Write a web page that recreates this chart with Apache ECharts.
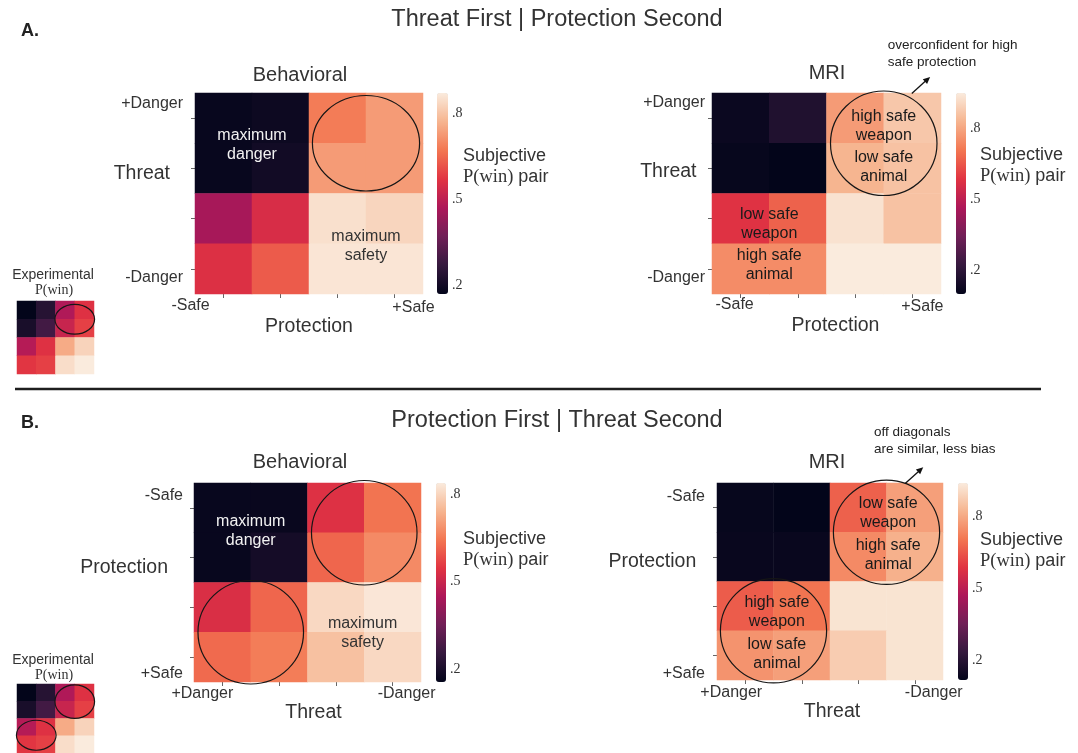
<!DOCTYPE html>
<html>
<head>
<meta charset="utf-8">
<script src="https://cdn.jsdelivr.net/npm/echarts@6/dist/echarts.min.js"></script>
<style>
  html, body { margin: 0; padding: 0; background: #ffffff; }
  #chart { width: 1078px; height: 753px; }
</style>
</head>
<body>
<div id="chart"></div>
<script>
// ---------- data ----------
// Tick labels (only the two ends of each 4-level axis are named)
const threatTicksA  = ['+Danger', '', '', '-Danger'];
const protectTicksA = ['-Safe', '', '', '+Safe'];
const protectTicksB = ['-Safe', '', '', '+Safe'];
const threatTicksB  = ['+Danger', '', '', '-Danger'];

// Subjective P(win) for each pair, rows top -> bottom, columns left -> right
// A. Threat first | Protection second  (rows: threat, columns: protection)
const behavioralA = [
  [0.18, 0.19, 0.68, 0.73],
  [0.18, 0.20, 0.73, 0.73],
  [0.46, 0.55, 0.85, 0.83],
  [0.56, 0.63, 0.86, 0.86]
];
const mriA = [
  [0.12, 0.17, 0.78, 0.87],
  [0.11, 0.10, 0.83, 0.86],
  [0.58, 0.67, 0.93, 0.86],
  [0.75, 0.75, 0.95, 0.95]
];
// B. Protection first | Threat second  (rows: protection, columns: threat)
const behavioralB = [
  [0.165, 0.167, 0.537, 0.640],
  [0.165, 0.190, 0.620, 0.674],
  [0.531, 0.620, 0.804, 0.830],
  [0.626, 0.654, 0.763, 0.804]
];
const mriB = [
  [0.125, 0.116, 0.669, 0.784],
  [0.130, 0.130, 0.743, 0.817],
  [0.660, 0.702, 0.925, 0.925],
  [0.760, 0.784, 0.875, 0.925]
];
// Experimental P(win) of the designed pairs
const experimentalA = [
  [0.10, 0.18, 0.45, 0.55],
  [0.15, 0.24, 0.50, 0.58],
  [0.46, 0.55, 0.77, 0.85],
  [0.56, 0.58, 0.87, 0.90]
];
const experimentalB = [
  [0.10, 0.18, 0.45, 0.55],
  [0.15, 0.24, 0.50, 0.58],
  [0.46, 0.55, 0.77, 0.85],
  [0.56, 0.58, 0.87, 0.90]
];

// Colour-bar ranges and ticks
const rangeBehavioralA = [0.17, 0.87];
const rangeMriA        = [0.10, 0.95];
const rangeBehavioralB = [0.155, 0.838];
const rangeMriB        = [0.116, 0.941];
const rangeExperimental = [0.10, 0.90];
const barTicksBehavioral = [0.2, 0.3, 0.4, 0.5, 0.6, 0.7, 0.8];
const barTicksMri        = [0.2, 0.3, 0.4, 0.5, 0.6, 0.7, 0.8, 0.9];
const barLabelValues     = [0.2, 0.5, 0.8];

// ---------- styling ----------
const ROCKET = ['#03051A', '#35193E', '#701F57', '#AD1759', '#E13342', '#F37651', '#F6B48F', '#FAEBDD'];
const SANS = "'Liberation Sans', Arial, Helvetica, sans-serif";
const SERIF = "'Liberation Serif', 'Times New Roman', serif";
const INK = '#333333';
const TICK = '#666666';

// Layout of the four main panels
const panels = [
  {
    data: behavioralA, range: rangeBehavioralA, barTicks: barTicksBehavioral,
    grid: { left: 195, top: 93, width: 228, height: 201 },
    bar:  { left: 437, top: 93, width: 11, height: 201 },
    xTicks: protectTicksA, yTicks: threatTicksA, xName: 'Protection', yName: 'Threat',
    xLab: { dx: [-33, 19], dy: [5, 9] }, yLab: { margin: 12, dy: [-15, 9] },
    yNameGap: 25, yNameUp: 20, xNameGap: 19.5, xNameDx: 0,
    title: { text: 'Behavioral', x: 300, y: 75 },
    barTitle: { x: 463, y: 166.5 },
    overlay: {
      circles: [{ x: 2.5, y: 0.5, rx: 0.94, ry: 0.95 }],
      texts: [
        { x: 0.5, y: 0.54, text: 'maximum\ndanger', fill: '#f2f2f2' },
        { x: 2.5, y: 2.55, text: 'maximum\nsafety', fill: INK }
      ]
    }
  },
  {
    data: mriA, range: rangeMriA, barTicks: barTicksMri,
    grid: { left: 712, top: 93, width: 229, height: 201 },
    bar:  { left: 956, top: 93, width: 10, height: 201 },
    xTicks: protectTicksA, yTicks: threatTicksA, xName: 'Protection', yName: 'Threat',
    xLab: { dx: [-6, 10], dy: [3.4, 7.4] }, yLab: { margin: 7, dy: [-16, 9] },
    yNameGap: 15.5, yNameUp: 22, xNameGap: 19, xNameDx: 9,
    title: { text: 'MRI', x: 827, y: 73 },
    barTitle: { x: 980, y: 166 },
    overlay: {
      circles: [{ x: 2.5, y: 0.5, rx: 0.93, ry: 1.04 }],
      texts: [
        { x: 2.5, y: 0.16, text: 'high safe\nweapon', fill: '#1a1a1a' },
        { x: 2.5, y: 0.98, text: 'low safe\nanimal', fill: '#1a1a1a' },
        { x: 0.5, y: 2.1, text: 'low safe\nweapon', fill: '#1a1a1a' },
        { x: 0.5, y: 2.93, text: 'high safe\nanimal', fill: '#1a1a1a' }
      ],
      note: { x: 2.57, y: -1.28, text: 'overconfident for high\nsafe protection' },
      arrow: { from: [2.99, -0.49], to: [3.31, -0.82] }
    }
  },
  {
    data: behavioralB, range: rangeBehavioralB, barTicks: barTicksBehavioral,
    grid: { left: 194, top: 483, width: 227, height: 199 },
    bar:  { left: 436, top: 483, width: 10, height: 199 },
    xTicks: threatTicksB, yTicks: protectTicksB, xName: 'Threat', yName: 'Protection',
    xLab: { dx: [-20, 14], dy: [5.7, 5.7] }, yLab: { margin: 11, dy: [-12, 16] },
    yNameGap: 26, yNameUp: 15, xNameGap: 15, xNameDx: 6,
    title: { text: 'Behavioral', x: 300, y: 462 },
    barTitle: { x: 463, y: 550 },
    overlay: {
      circles: [{ x: 2.5, y: 0.5, rx: 0.93, ry: 1.05 }, { x: 0.5, y: 2.5, rx: 0.93, ry: 1.04 }],
      texts: [
        { x: 0.5, y: 0.46, text: 'maximum\ndanger', fill: '#f2f2f2' },
        { x: 2.47, y: 2.51, text: 'maximum\nsafety', fill: INK }
      ]
    }
  },
  {
    data: mriB, range: rangeMriB, barTicks: barTicksMri,
    grid: { left: 717, top: 483, width: 226, height: 197 },
    bar:  { left: 958, top: 483, width: 10, height: 197 },
    xTicks: threatTicksB, yTicks: protectTicksB, xName: 'Threat', yName: 'Protection',
    xLab: { dx: [-14, 19], dy: [7.7, 7.7] }, yLab: { margin: 12, dy: [-11, 18] },
    yNameGap: 20.7, yNameUp: 20, xNameGap: 10.5, xNameDx: 2,
    title: { text: 'MRI', x: 827, y: 462 },
    barTitle: { x: 980, y: 551 },
    overlay: {
      circles: [{ x: 2.5, y: 0.5, rx: 0.94, ry: 1.06 }, { x: 0.5, y: 2.5, rx: 0.94, ry: 1.06 }],
      texts: [
        { x: 2.53, y: 0.12, text: 'low safe\nweapon', fill: '#1a1a1a' },
        { x: 2.53, y: 0.97, text: 'high safe\nanimal', fill: '#1a1a1a' },
        { x: 0.56, y: 2.12, text: 'high safe\nweapon', fill: '#1a1a1a' },
        { x: 0.56, y: 2.97, text: 'low safe\nanimal', fill: '#1a1a1a' }
      ],
      note: { x: 2.28, y: -1.36, text: 'off diagonals\nare similar, less bias' },
      arrow: { from: [2.83, -0.49], to: [3.15, -0.82] }
    }
  }
];

// Small "Experimental P(win)" insets
const insets = [
  {
    data: experimentalA, grid: { left: 17, top: 301, width: 77, height: 73 },
    label: { x: 53, y: 275 },
    overlay: { circles: [{ x: 2.5, y: 0.5, rx: 1.03, ry: 0.82 }] }
  },
  {
    data: experimentalB, grid: { left: 17, top: 684, width: 77, height: 73 },
    label: { x: 53, y: 660 },
    overlay: { circles: [{ x: 2.5, y: 0.52, rx: 1.03, ry: 0.97 }, { x: 0.5, y: 2.47, rx: 1.03, ry: 0.87 }] }
  }
];

// ---------- helpers ----------
function toCells(matrix) {
  const out = [];
  matrix.forEach((row, r) => row.forEach((v, c) => out.push([c, r, v])));
  return out;
}
const idx4 = ['0', '1', '2', '3'];

function xLabelPad(dx, dy) { return [dy, dx < 0 ? -2 * dx : 0, 0, dx > 0 ? 2 * dx : 0]; }
function yLabelPad(dy) { return [dy > 0 ? 2 * dy : 0, 0, dy < 0 ? -2 * dy : 0, 0]; }

// Circles, in-cell captions and callouts, placed in cell units of a grid
function overlayRenderer(spec) {
  return function (params, api) {
    const o = api.coord([0, 0]);
    const sx = api.coord([1, 0])[0] - o[0];
    const sy = api.coord([0, 1])[1] - o[1];
    const at = (x, y) => [o[0] + x * sx, o[1] + y * sy];
    const children = [];
    (spec.circles || []).forEach(c => {
      const p = at(c.x, c.y);
      children.push({
        type: 'ellipse',
        shape: { cx: p[0], cy: p[1], rx: Math.abs(sx) * c.rx, ry: Math.abs(sy) * c.ry },
        style: { fill: 'none', stroke: '#161616', lineWidth: 1.2 }
      });
    });
    (spec.texts || []).forEach(t => {
      const p = at(t.x, t.y);
      children.push({
        type: 'text', x: p[0], y: p[1],
        style: { text: t.text, fill: t.fill, font: '16px ' + SANS, align: 'center', verticalAlign: 'middle', lineHeight: 19 }
      });
    });
    if (spec.note) {
      const p = at(spec.note.x, spec.note.y);
      children.push({
        type: 'text', x: p[0], y: p[1],
        style: { text: spec.note.text, fill: '#222', font: '13.5px ' + SANS, align: 'left', verticalAlign: 'middle', lineHeight: 17 }
      });
    }
    if (spec.arrow) {
      const a = at(spec.arrow.from[0], spec.arrow.from[1]);
      const b = at(spec.arrow.to[0], spec.arrow.to[1]);
      const len = Math.hypot(b[0] - a[0], b[1] - a[1]);
      const ux = (b[0] - a[0]) / len, uy = (b[1] - a[1]) / len;
      const L = 7, W = 3.2;
      children.push({
        type: 'line', shape: { x1: a[0], y1: a[1], x2: b[0] - ux * 4, y2: b[1] - uy * 4 },
        style: { stroke: '#111', lineWidth: 1.3 }
      });
      children.push({
        type: 'polygon',
        shape: { points: [
          [b[0], b[1]],
          [b[0] - ux * L - uy * W, b[1] - uy * L + ux * W],
          [b[0] - ux * L + uy * W, b[1] - uy * L - ux * W]
        ] },
        style: { fill: '#111' }
      });
    }
    return { type: 'group', children };
  };
}

// ---------- option ----------
const grid = [], xAxis = [], yAxis = [], series = [], visualMap = [], graphic = [];

panels.forEach((p, i) => {
  grid.push(Object.assign({}, p.grid));
  xAxis.push({
    type: 'category', gridIndex: i, data: idx4, position: 'bottom',
    axisLine: { show: false },
    axisTick: { show: true, alignWithLabel: true, length: 4, lineStyle: { color: TICK, width: 1 } },
    axisLabel: {
      interval: 0, margin: 0,
      formatter: (v, k) => p.xTicks[k] ? '{' + (k === 0 ? 'a' : 'b') + '|' + p.xTicks[k] + '}' : '',
      rich: {
        a: { fontSize: 16, fontFamily: SANS, color: INK, lineHeight: 18, padding: xLabelPad(p.xLab.dx[0], p.xLab.dy[0]) },
        b: { fontSize: 16, fontFamily: SANS, color: INK, lineHeight: 18, padding: xLabelPad(p.xLab.dx[1], p.xLab.dy[1]) }
      }
    },
    splitLine: { show: false },
    name: p.xName, nameLocation: 'middle', nameGap: p.xNameGap,
    nameTextStyle: { fontSize: 19.5, fontFamily: SANS, color: INK, padding: [0, 0, 0, 2 * p.xNameDx] }
  });
  yAxis.push({
    type: 'category', gridIndex: i, data: idx4, inverse: true, position: 'left',
    axisLine: { show: false },
    axisTick: { show: true, alignWithLabel: true, length: 4, lineStyle: { color: TICK, width: 1 } },
    axisLabel: {
      interval: 0, margin: p.yLab.margin,
      formatter: (v, k) => p.yTicks[k] ? '{' + (k === 0 ? 'a' : 'b') + '|' + p.yTicks[k] + '}' : '',
      rich: {
        a: { fontSize: 16, fontFamily: SANS, color: INK, lineHeight: 18, padding: yLabelPad(p.yLab.dy[0]) },
        b: { fontSize: 16, fontFamily: SANS, color: INK, lineHeight: 18, padding: yLabelPad(p.yLab.dy[1]) }
      }
    },
    splitLine: { show: false }
  });
  // vertical-axis title, written level with the axis, to its left
  graphic.push({
    type: 'text', silent: true,
    x: p.grid.left - p.yNameGap, y: p.grid.top + p.grid.height / 2 - p.yNameUp,
    style: { text: p.yName, font: '19.5px ' + SANS, fill: INK, align: 'right', verticalAlign: 'middle' }
  });
});

// colour-bar tick axes (grids 4..7)
panels.forEach((p, i) => {
  const g = 4 + i;
  grid.push(Object.assign({}, p.bar));
  xAxis.push({ type: 'value', gridIndex: g, show: false, min: 0, max: 1 });
  yAxis.push({
    type: 'value', gridIndex: g, position: 'right', min: p.range[0], max: p.range[1],
    axisLine: { show: false }, splitLine: { show: false },
    axisTick: { show: true, length: 3, customValues: p.barTicks, lineStyle: { color: TICK, width: 1 } },
    axisLabel: {
      customValues: barLabelValues, margin: 4,
      formatter: v => '.' + Math.round(v * 10),
      fontSize: 14, fontFamily: SERIF, color: INK
    }
  });
});

// inset axes (grids 8..9)
insets.forEach((s, i) => {
  const g = 8 + i;
  grid.push(Object.assign({}, s.grid));
  xAxis.push({ type: 'category', gridIndex: g, data: idx4, show: false });
  yAxis.push({ type: 'category', gridIndex: g, data: idx4, inverse: true, show: false });
});

// heatmaps
panels.forEach((p, i) => {
  series.push({
    type: 'heatmap', xAxisIndex: i, yAxisIndex: i, data: toCells(p.data),
    itemStyle: { borderWidth: 0 }, emphasis: { disabled: true }, silent: true
  });
  visualMap.push({
    type: 'continuous', seriesIndex: series.length - 1, min: p.range[0], max: p.range[1],
    orient: 'vertical', left: p.bar.left, top: p.bar.top,
    itemWidth: p.bar.width, itemHeight: p.bar.height, padding: 0,
    calculable: false, hoverLink: false, text: null, showLabel: false,
    inRange: { color: ROCKET }
  });
});
insets.forEach((s, i) => {
  series.push({
    type: 'heatmap', xAxisIndex: 8 + i, yAxisIndex: 8 + i, data: toCells(s.data),
    itemStyle: { borderWidth: 0 }, emphasis: { disabled: true }, silent: true
  });
  visualMap.push({
    type: 'continuous', seriesIndex: series.length - 1, show: false,
    min: rangeExperimental[0], max: rangeExperimental[1], inRange: { color: ROCKET }
  });
});

// overlays
panels.forEach((p, i) => {
  series.push({
    type: 'custom', xAxisIndex: i, yAxisIndex: i, data: [[0, 0]], clip: false, silent: true, z: 5,
    renderItem: overlayRenderer(p.overlay)
  });
});
insets.forEach((s, i) => {
  series.push({
    type: 'custom', xAxisIndex: 8 + i, yAxisIndex: 8 + i, data: [[0, 0]], clip: false, silent: true, z: 5,
    renderItem: overlayRenderer(s.overlay)
  });
});

// free-standing text
function txt(x, y, text, font, align, extra) {
  return {
    type: 'text', x, y, silent: true,
    style: Object.assign({ text, font, fill: INK, align: align || 'center', verticalAlign: 'middle' }, extra || {})
  };
}
graphic.push(txt(557, 20, 'Threat First | Protection Second', '23.5px ' + SANS));
graphic.push(txt(557, 421, 'Protection First | Threat Second', '23.5px ' + SANS));
graphic.push(txt(21, 31, 'A.', 'bold 18px ' + SANS, 'left', { fill: '#222' }));
graphic.push(txt(21, 423, 'B.', 'bold 18px ' + SANS, 'left', { fill: '#222' }));
graphic.push({
  type: 'line', silent: true,
  shape: { x1: 15, y1: 389, x2: 1041, y2: 389 },
  style: { stroke: '#1e1e1e', lineWidth: 2.5 }
});
panels.forEach(p => {
  graphic.push(txt(p.title.x, p.title.y, p.title.text, '20px ' + SANS));
  graphic.push(txt(p.barTitle.x, p.barTitle.y, 'Subjective\n{s|P(win)} pair', '18px ' + SANS, 'left', {
    lineHeight: 21,
    rich: { s: { font: '18.5px ' + SERIF, fill: INK, lineHeight: 21 } }
  }));
});
insets.forEach(s => {
  graphic.push(txt(s.label.x, s.label.y, 'Experimental', '14px ' + SANS));
  graphic.push(txt(s.label.x + 1, s.label.y + 15, 'P(win)', '14px ' + SERIF));
});

const chart = echarts.init(document.getElementById('chart'), null, { renderer: 'canvas' });
chart.setOption({
  animation: false,
  backgroundColor: '#ffffff',
  grid, xAxis, yAxis, series, visualMap, graphic
});
</script>
</body>
</html>
